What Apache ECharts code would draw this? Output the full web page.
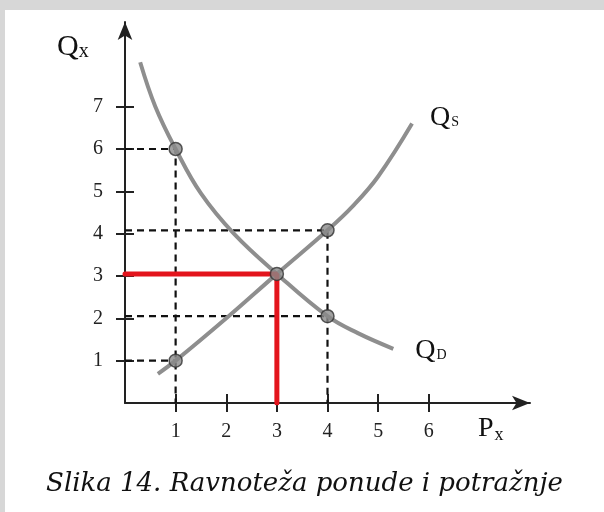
<!DOCTYPE html>
<html>
<head>
<meta charset="utf-8">
<script src="https://cdn.jsdelivr.net/npm/echarts@6/dist/echarts.min.js"></script>
<style>
  html, body { margin: 0; padding: 0; background: #d7d7d7; }
  #wrap { position: relative; width: 604px; height: 512px; overflow: hidden; }
  #myChart { position: absolute; left: 5px; top: 10px; width: 599px; height: 502px; background: #fff; }
</style>
</head>
<body>
<div id="wrap"><div id="myChart"></div></div>
<script>
// tick labels
var xTicks = [1, 2, 3, 4, 5, 6];
var yTicks = [1, 2, 3, 4, 5, 6, 7];

// demand curve Qd (price, quantity)
var demand = [[0.3, 8.05], [0.6, 7.0], [1, 6], [1.5, 4.95], [2.15, 4.0],
              [3, 3.05], [4, 2.05], [4.6, 1.65], [5.3, 1.28]];
// supply curve Qs
var supply = [[0.65, 0.69], [1, 1], [2, 2], [3, 3.05], [4, 4.08], [4.5, 4.65],
              [5, 5.35], [5.67, 6.6]];

// marked points
var points = [[1, 6], [1, 1], [3, 3.05], [4, 4.08], [4, 2.05]];

// dashed guide lines
var guide6 = [[0, 6], [1, 6], [1, 0]];
var guide4 = [[0, 4.08], [4, 4.08], [4, 0]];
var guide2 = [[0, 2.05], [4, 2.05]];
var guide1 = [[0, 1], [1, 1]];

// equilibrium (red)
var equil = [[0, 3.05], [3, 3.05], [3, 0]];

var serif = 'Liberation Serif';
var tickStyle = { color: '#222', width: 2 };

function guideSeries(data) {
  return {
    type: 'line', data: data, symbol: 'none', silent: true, z: 2,
    lineStyle: { color: '#111', width: 2.2, type: [7, 5] }
  };
}

var option = {
  animation: false,
  grid: { left: 120, right: 74, top: 12, bottom: 109 },
  xAxis: [
    {
      type: 'value', min: 0, max: 8, interval: 1,
      splitLine: { show: false },
      axisLine: { lineStyle: { color: '#222', width: 2 }, symbol: ['none', 'arrow'], symbolSize: [11, 18] },
      axisTick: { customValues: xTicks, length: 9, lineStyle: tickStyle },
      axisLabel: { customValues: xTicks, fontFamily: serif, fontSize: 20, color: '#222', margin: 19 }
    },
    {
      type: 'value', min: 0, max: 8, position: 'bottom',
      splitLine: { show: false },
      axisLine: { show: false },
      axisTick: { customValues: xTicks, inside: true, length: 9, lineStyle: tickStyle },
      axisLabel: { show: false }
    }
  ],
  yAxis: [
    {
      type: 'value', min: 0, max: 9, interval: 1,
      splitLine: { show: false },
      axisLine: { lineStyle: { color: '#222', width: 2 }, symbol: ['none', 'arrow'], symbolSize: [11, 18] },
      axisTick: { customValues: yTicks, length: 9, lineStyle: tickStyle },
      axisLabel: { customValues: yTicks, fontFamily: serif, fontSize: 20, color: '#222', margin: 22 }
    },
    {
      type: 'value', min: 0, max: 9, position: 'left',
      splitLine: { show: false },
      axisLine: { show: false },
      axisTick: { customValues: yTicks, inside: true, length: 9, lineStyle: tickStyle },
      axisLabel: { show: false }
    }
  ],
  series: [
    guideSeries(guide6),
    guideSeries(guide4),
    guideSeries(guide2),
    guideSeries(guide1),
    {
      name: 'Qd', type: 'line', data: demand, smooth: 0.4, symbol: 'none', z: 3,
      lineStyle: { color: '#8e8e8e', width: 4 },
      endLabel: {
        show: true, formatter: '{q|Q}{s|D}', offset: [14, 2],
        rich: {
          q: { fontFamily: serif, fontSize: 28, color: '#111' },
          s: { fontFamily: serif, fontSize: 14, color: '#111', padding: [10, 0, 0, 1] }
        }
      }
    },
    {
      name: 'Qs', type: 'line', data: supply, smooth: 0.4, symbol: 'none', z: 3,
      lineStyle: { color: '#8e8e8e', width: 4 },
      endLabel: {
        show: true, formatter: '{q|Q}{s|S}', offset: [10, -6],
        rich: {
          q: { fontFamily: serif, fontSize: 28, color: '#111' },
          s: { fontFamily: serif, fontSize: 14, color: '#111', padding: [10, 0, 0, 1] }
        }
      }
    },
    {
      type: 'line', data: equil, symbol: 'none', z: 4,
      lineStyle: { color: '#e3141c', width: 5, cap: 'round' }
    },
    {
      type: 'scatter', data: points, symbol: 'circle', symbolSize: 13, z: 5,
      itemStyle: { color: '#8a8a8a', borderColor: '#333', borderWidth: 1.5 }
    }
  ],
  graphic: [
    {
      type: 'text', left: 52, top: 22,
      style: {
        text: '{q|Q}{s|x}',
        rich: {
          q: { fontFamily: serif, fontSize: 30, fill: '#111' },
          s: { fontFamily: serif, fontSize: 20, fill: '#111', padding: [10, 0, 0, 0] }
        }
      }
    },
    {
      type: 'text', left: 473, top: 405,
      style: {
        text: '{q|P}{s|x}',
        rich: {
          q: { fontFamily: serif, fontSize: 28, fill: '#111' },
          s: { fontFamily: serif, fontSize: 18, fill: '#111', padding: [12, 0, 0, 1] }
        }
      }
    },
    {
      type: 'text', left: 'center', top: 461,
      style: {
        text: 'Slika 14. Ravnoteža ponude i potražnje',
        font: 'italic 26px "DejaVu Serif"', fill: '#111'
      }
    }
  ]
};

var myChart = echarts.init(document.getElementById('myChart'));
myChart.setOption(option);
</script>
</body>
</html>
